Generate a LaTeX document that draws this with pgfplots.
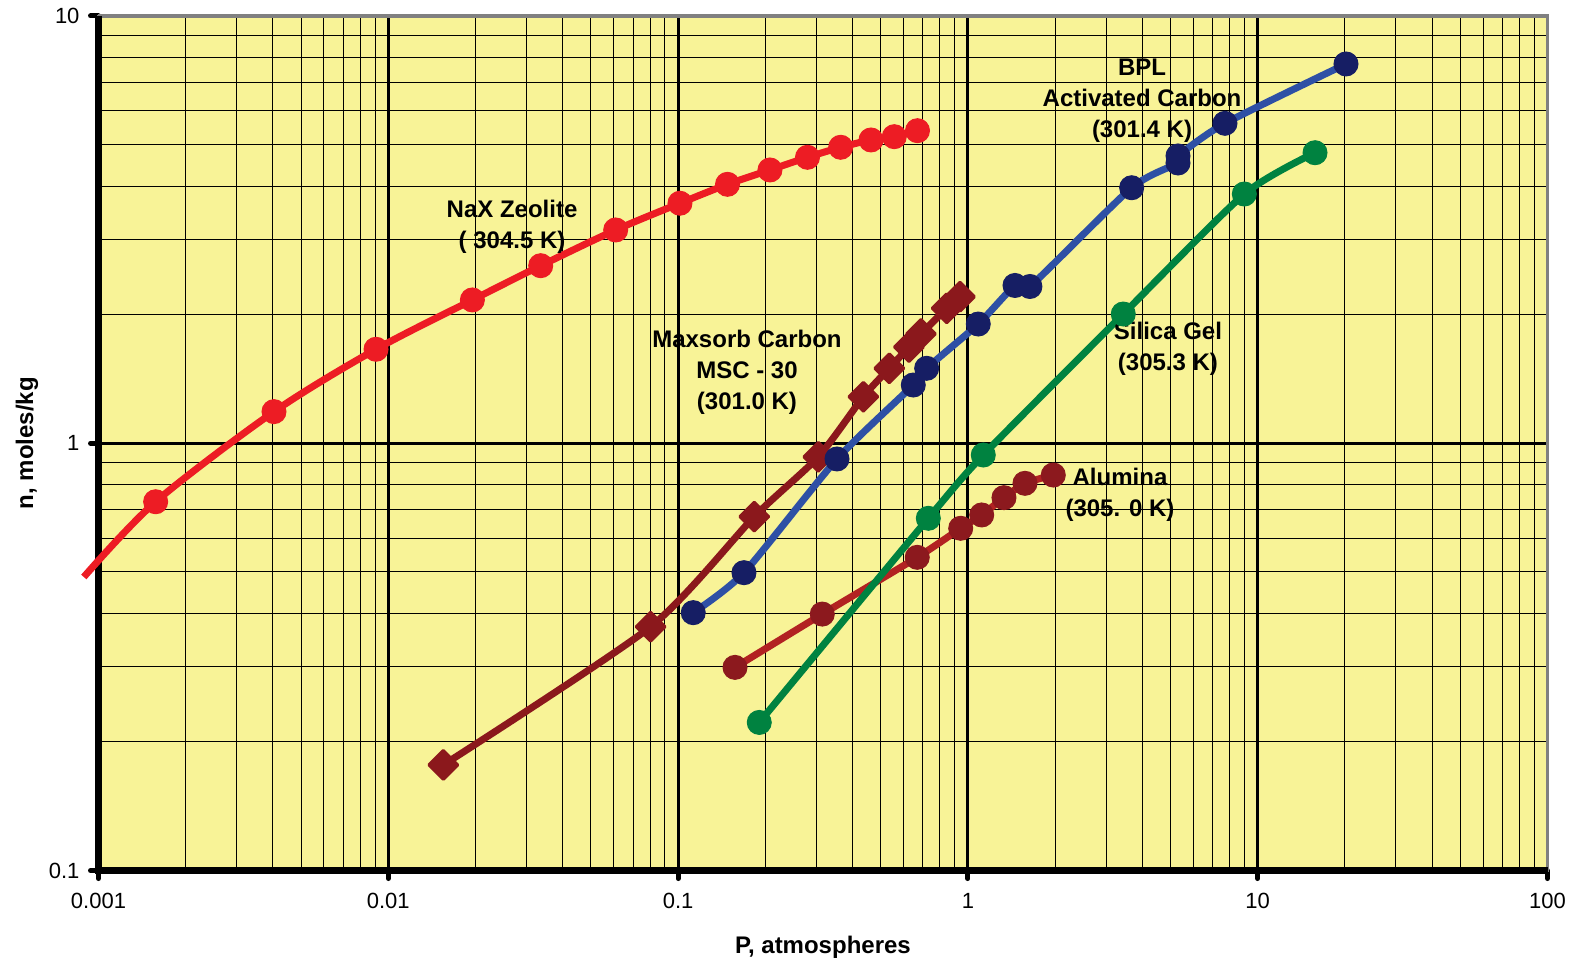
\documentclass[border=0pt]{standalone}
\usepackage{fontspec}
\setmainfont{Liberation Sans}
\usepackage{pgfplots}
\pgfplotsset{compat=1.18}
\definecolor{bgyellow}{RGB}{248,243,151}
\definecolor{naxred}{RGB}{237,28,36}
\definecolor{maxred}{RGB}{139,24,28}
\definecolor{bplline}{RGB}{46,80,165}
\definecolor{bplmark}{RGB}{22,30,100}
\definecolor{silgreen}{RGB}{0,130,64}
\definecolor{alline}{RGB}{178,34,34}
\definecolor{almark}{RGB}{140,25,30}
\begin{document}
\begin{tikzpicture}
\useasboundingbox (-49.25pt,-46.2pt) rectangle (738.25pt,435.3pt);
\begin{axis}[
  at={(0,0)}, anchor=south west,
  scale only axis, width=724.5pt, height=427.3pt,
  xmode=log, ymode=log,
  xmin=0.001, xmax=100, ymin=0.1, ymax=10,
  xtick={0.001,0.01,0.1,1,10,100},
  xticklabels={0.001,0.01,0.1,1,10,100},
  ytick={0.1,1,10},
  yticklabels={0.1,1,10},
  minor xtick={0.002,0.003,0.004,0.005,0.006,0.007,0.008,0.009,
               0.02,0.03,0.04,0.05,0.06,0.07,0.08,0.09,
               0.2,0.3,0.4,0.5,0.6,0.7,0.8,0.9,
               2,3,4,5,6,7,8,9,
               20,30,40,50,60,70,80,90},
  minor ytick={0.2,0.3,0.4,0.5,0.6,0.7,0.8,0.9,2,3,4,5,6,7,8,9},
  grid=both,
  minor grid style={black, line width=0.5pt},
  major grid style={black, line width=1.5pt},
  axis line style={gray, line width=1.2pt},
  tick pos=left,
  tick align=outside,
  major tick length=4pt,
  minor tick length=0pt,
  every major tick/.append style={black, line width=2.5pt, line cap=round},
  tick label style={font=\fontsize{11}{13}\selectfont},
  xticklabel style={yshift=-3.7pt},
  yticklabel style={xshift=-2pt},
  axis background/.style={fill=bgyellow},
  clip=false,
  xlabel={P, atmospheres},
  ylabel={n, moles/kg},
  label style={font=\fontsize{12}{14}\selectfont\bfseries},
  xlabel style={at={(axis description cs:0.5,-0.0894)}, anchor=center},
  ylabel style={at={(axis description cs:-0.0493,0.5)}, anchor=center},
]
\draw[gray, line width=1.6pt] (rel axis cs:0,1) -- (rel axis cs:1,1) -- (rel axis cs:1,0);
\draw[black, line width=3.5pt] (rel axis cs:0,1) -- (rel axis cs:0,0) -- (rel axis cs:1,0);

% NaX Zeolite
\addplot[naxred, line width=3.5pt, smooth, tension=0.5, mark=*, mark size=6pt,
  mark indices={2,3,4,5,6,7,8,9,10,11,12,13,14,15},
  mark options={fill=naxred, draw=naxred, line width=0.5pt}] coordinates {
(0.00089,0.4865) (0.001575,0.730) (0.004033,1.186) (0.009071,1.660) (0.01951,2.165)
(0.03357,2.604) (0.06091,3.157) (0.1015,3.646) (0.1481,4.037) (0.2075,4.362)
(0.2796,4.670) (0.3640,4.929) (0.4631,5.127) (0.5572,5.219) (0.6701,5.391)};

% Alumina
\addplot[alline, line width=3.5pt, smooth, tension=0.4, mark=*, mark size=6pt,
  mark options={fill=almark, draw=almark, line width=0.5pt}] coordinates {
(0.1572,0.2990) (0.3145,0.3985) (0.6688,0.5410) (0.9445,0.6326) (1.116,0.6797)
(1.332,0.7462) (1.574,0.8060) (1.971,0.8428)};

% Silica Gel
\addplot[silgreen, line width=3.5pt, smooth, tension=0.4, mark=*, mark size=6pt,
  mark options={fill=silgreen, draw=silgreen, line width=0.5pt}] coordinates {
(0.1906,0.2222) (0.7303,0.6676) (1.130,0.9389) (3.437,2.007) (8.991,3.832) (15.77,4.787)};

% Maxsorb Carbon
\addplot[maxred, line width=3.5pt, smooth, tension=0.4, mark=square*, mark size=5.1pt,
  mark options={fill=maxred, draw=maxred, line width=1.5pt, line join=round, rotate=45}] coordinates {
(0.01548,0.1767) (0.0804,0.3722) (0.1832,0.6735) (0.3047,0.930) (0.4357,1.285)
(0.5355,1.498) (0.6262,1.680) (0.6890,1.803) (0.8450,2.070) (0.9391,2.203)};

% BPL Activated Carbon
\addplot[bplline, line width=3.5pt, smooth, tension=0.4, mark=*, mark size=6pt,
  mark options={fill=bplmark, draw=bplmark, line width=0.5pt}] coordinates {
(0.1128,0.4015) (0.1688,0.498) (0.3535,0.919) (0.6479,1.369) (0.7208,1.498)
(1.086,1.902) (1.454,2.341) (1.637,2.328) (3.674,3.964) (5.309,4.529) (5.309,4.704)
(7.713,5.609) (20.17,7.723)};

\begin{scope}[every node/.style={font=\fontsize{12}{15.5}\selectfont\bfseries, align=center}]
\node at (axis cs:0.02673,3.217) {NaX Zeolite\\( 304.5 K)};
\node at (axis cs:0.1729,1.469) {Maxsorb Carbon\\MSC - 30\\(301.0 K)};
\node at (axis cs:3.990,6.326) {BPL\\Activated Carbon\\(301.4 K)};
\node at (axis cs:4.903,1.662) {Silica Gel\\(305.3 K)};
\node at (axis cs:3.349,0.7568) {Alumina\\(305. 0 K)};
\end{scope}
\end{axis}
\end{tikzpicture}
\end{document}
